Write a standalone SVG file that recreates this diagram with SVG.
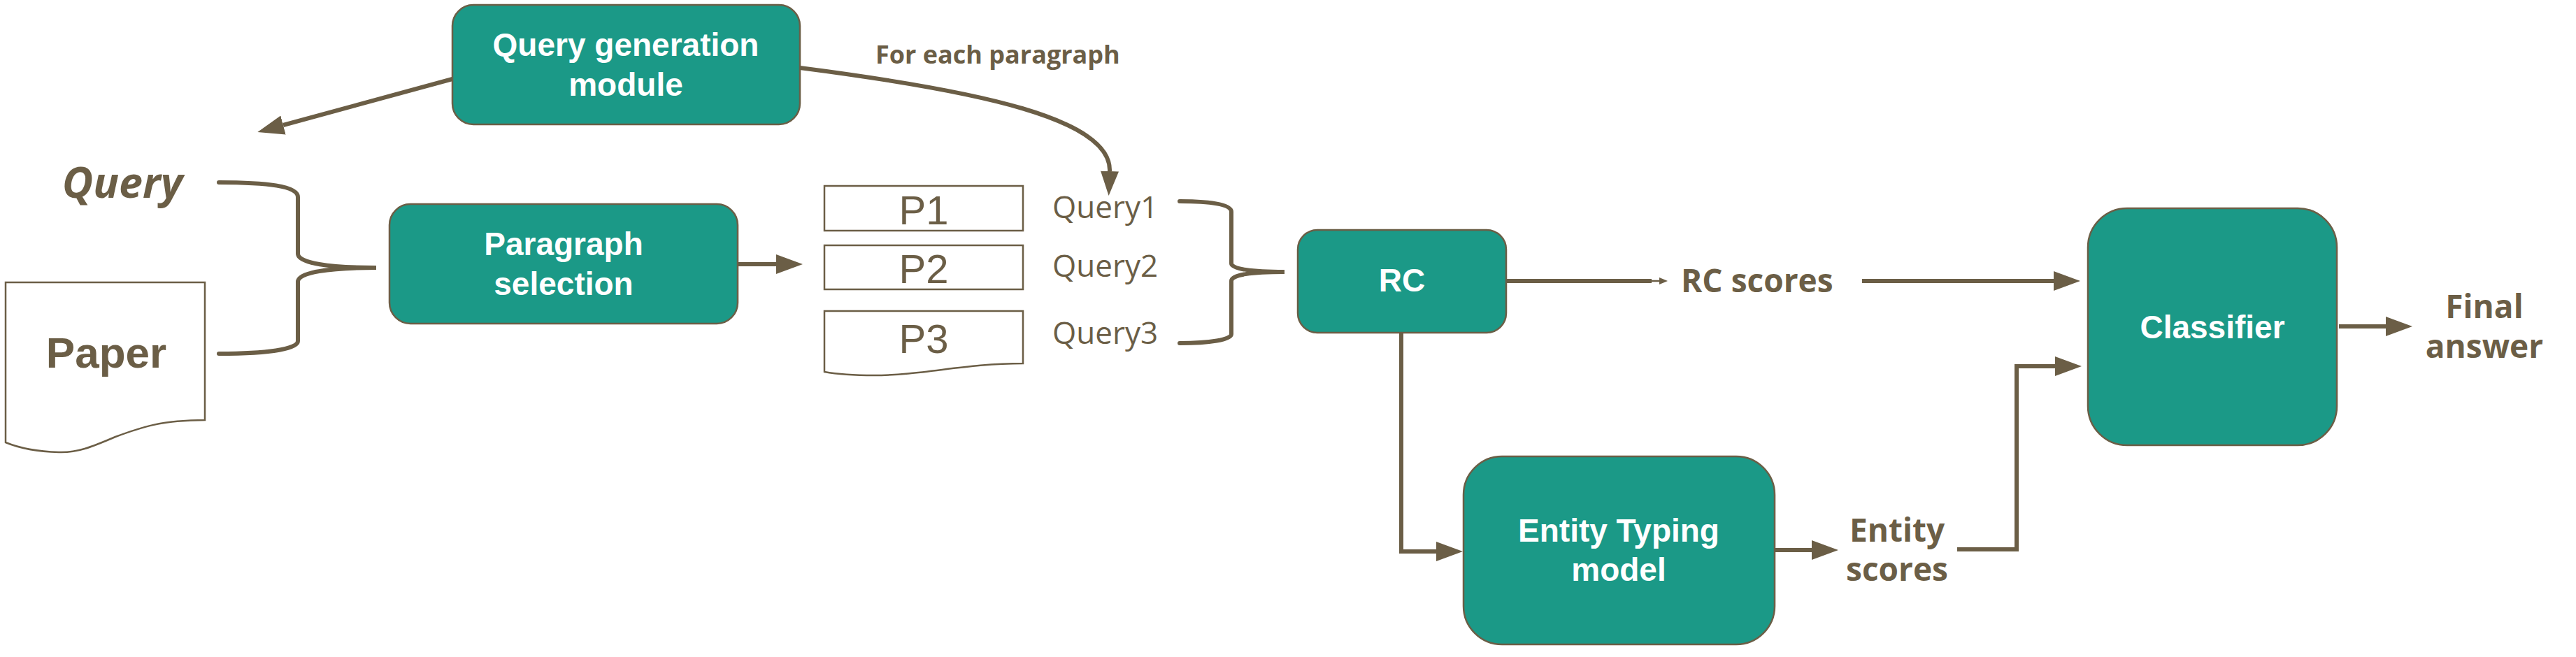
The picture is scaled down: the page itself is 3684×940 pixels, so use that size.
<svg xmlns="http://www.w3.org/2000/svg" width="3684" height="940" viewBox="0 0 3684 940">
<style>
.box{fill:#1b9987;stroke:#6b5e46;stroke-width:2.5}
.doc{fill:#fff;stroke:#6b5e46;stroke-width:2.5}
.bt{font-family:"Liberation Sans",Arial,sans-serif;font-weight:bold;font-size:46px;fill:#fff;text-anchor:middle}
.lbl{font-family:"Open Sans",sans-serif;font-weight:bold;font-size:46px;fill:#6b5e46}
.q{font-family:"Open Sans",sans-serif;font-size:44px;fill:#6b5e46}
.p{font-family:"Liberation Sans",Arial,sans-serif;font-size:58px;fill:#6b5e46;text-anchor:middle}
.ln{fill:none;stroke:#6b5e46;stroke-width:6}
.br{fill:none;stroke:#6b5e46;stroke-width:6;stroke-linecap:round}
</style>
<defs>
<marker id="ah" markerUnits="userSpaceOnUse" markerWidth="40" markerHeight="30" refX="0" refY="14" orient="auto"><path d="M0,0 L38,14 L0,28 Z" fill="#6b5e46"/></marker>
<marker id="ah2" markerUnits="userSpaceOnUse" markerWidth="40" markerHeight="30" refX="0" refY="13" orient="auto"><path d="M0,0 L35,13 L0,26 Z" fill="#6b5e46"/></marker>
<marker id="sm" markerUnits="userSpaceOnUse" markerWidth="14" markerHeight="12" refX="0" refY="5" orient="auto"><path d="M0,0 L12,5 L0,10 Z" fill="#6b5e46"/></marker>
</defs>

<g id="connectors">
<path class="ln" d="M647,113 L405,179" marker-end="url(#ah)"/>
<path class="ln" d="M1144,97 C1400,130 1590,170 1587,245" marker-end="url(#ah2)"/>
<path class="ln" d="M1055,378 L1110,378" marker-end="url(#ah)"/>
<path class="ln" d="M2154,402 L2362,402"/>
<path fill="none" stroke="#6b5e46" stroke-width="2.5" d="M2360,402 L2373,402" marker-end="url(#sm)"/>
<path class="ln" d="M2663,402 L2937,402" marker-end="url(#ah)"/>
<path class="ln" d="M2004,476 L2004,789 L2054,789" marker-end="url(#ah)"/>
<path class="ln" d="M2538,787 L2591,787" marker-end="url(#ah)"/>
<path class="ln" d="M2799,786 L2884,786 L2884,524 L2939,524" marker-end="url(#ah)"/>
<path class="ln" d="M3345,467 L3412,467" marker-end="url(#ah)"/>
<path class="br" d="M313,261 C380,261 426,266 426,282 L426,363 C426,376 470,383 538,383 C470,383 426,390 426,403 L426,488 C426,500 380,506 313,506"/>
<path class="br" d="M1687,288 C1730,288 1761,292 1761,303 L1761,377 C1761,385 1790,389 1837,389 C1790,389 1761,393 1761,402 L1761,478 C1761,486 1730,491 1687,491"/>
</g>

<g id="query-gen">
<rect class="box" x="647" y="7" width="497" height="171" rx="30"/>
<text class="bt" x="895" y="80">Query generation</text>
<text class="bt" x="895" y="137">module</text>
</g>

<g id="for-each-label">
<text class="lbl" x="1252" y="91" style="font-size:36px">For each paragraph</text>
</g>

<g id="query">
<text x="175" y="283" style="font-family:'Open Sans',sans-serif;font-weight:bold;font-style:italic;font-size:61px;fill:#6b5e46;text-anchor:middle">Query</text>
</g>

<g id="paper">
<path class="doc" d="M8,404 H293 V601 C230,601 200,612 165,625 C130,640 110,648 84,647 C50,646 25,640 8,633 Z"/>
<text x="152" y="526" style="font-family:'Liberation Sans',Arial,sans-serif;font-weight:bold;font-size:62px;fill:#6b5e46;text-anchor:middle">Paper</text>
</g>

<g id="paragraph-selection">
<rect class="box" x="557" y="292" width="498" height="171" rx="30"/>
<text class="bt" x="806" y="365">Paragraph</text>
<text class="bt" x="806" y="422">selection</text>
</g>

<g id="p1">
<rect class="doc" x="1179" y="266" width="284" height="64"/>
<text class="p" x="1321" y="321">P1</text>
</g>
<g id="p2">
<rect class="doc" x="1179" y="351" width="284" height="63"/>
<text class="p" x="1321" y="405">P2</text>
</g>
<g id="p3">
<path class="doc" d="M1179,445 H1463 V520 C1380,520 1320,537 1250,537 C1210,537 1190,534 1179,532 Z"/>
<text class="p" x="1321" y="505">P3</text>
</g>

<g id="queries">
<text class="q" x="1505" y="312">Query1</text>
<text class="q" x="1505" y="396">Query2</text>
<text class="q" x="1505" y="492">Query3</text>
</g>

<g id="rc">
<rect class="box" x="1856" y="329" width="298" height="147" rx="28"/>
<text class="bt" x="2005" y="417">RC</text>
</g>

<g id="rc-scores">
<text class="lbl" x="2404" y="418">RC scores</text>
</g>

<g id="entity-typing">
<rect class="box" x="2093" y="653" width="445" height="269" rx="55"/>
<text class="bt" x="2315" y="775">Entity Typing</text>
<text class="bt" x="2315" y="831">model</text>
</g>

<g id="entity-scores">
<text class="lbl" x="2713" y="775" text-anchor="middle">Entity</text>
<text class="lbl" x="2713" y="831" text-anchor="middle">scores</text>
</g>

<g id="classifier">
<rect class="box" x="2986" y="298" width="356" height="339" rx="56"/>
<text class="bt" x="3164" y="484">Classifier</text>
</g>

<g id="final-answer">
<text class="lbl" x="3553" y="455" text-anchor="middle">Final</text>
<text class="lbl" x="3553" y="512" text-anchor="middle">answer</text>
</g>
</svg>
